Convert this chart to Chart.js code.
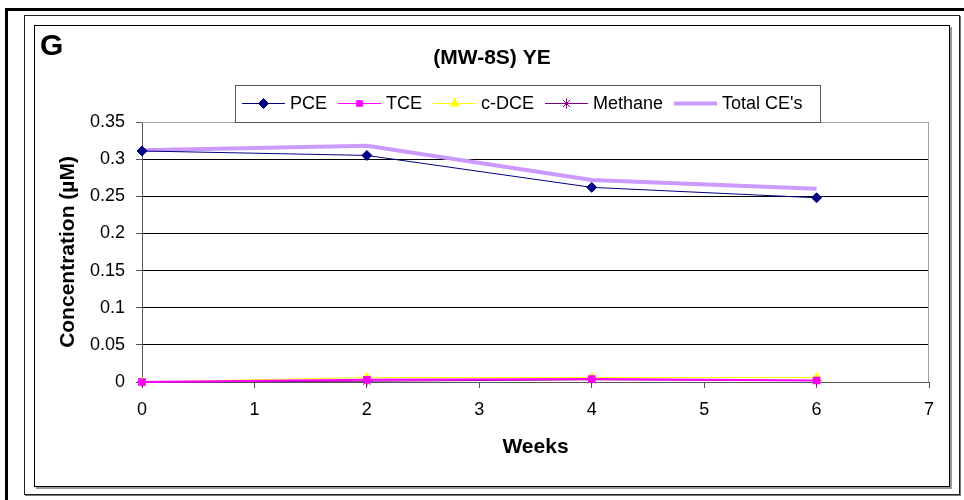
<!DOCTYPE html>
<html>
<head>
<meta charset="utf-8">
<script src="https://cdn.jsdelivr.net/npm/chart.js@4"></script>
<style>
body{margin:0;background:#fff;width:964px;height:500px;overflow:hidden;position:relative;font-family:"Liberation Sans",Arial,sans-serif;}
.f{position:absolute;box-sizing:border-box;}
#f1{left:5px;top:8px;width:970px;height:500px;border-top:3px solid #000;border-left:3px solid #000;}
#f2{left:24px;top:15px;width:936px;height:480px;border:1px solid #222;box-shadow:1px 1px 0 #777;}
#f3{left:34px;top:25px;width:916px;height:462px;border:1px solid #000;box-shadow:2px 2px 0 #999;}
#wrap{position:absolute;left:35px;top:26px;width:914px;height:460px;}
</style>
</head>
<body>
<div class="f" id="f1"></div>
<div class="f" id="f2"></div>
<div class="f" id="f3"></div>
<div id="wrap"><canvas id="chart" width="914" height="460"></canvas></div>
<script>
// weeks sampled
let weeks = [0, 2, 4, 6];

// concentrations (uM)
let pce = [0.311, 0.305, 0.262, 0.248];
let tce = [0, 0.003, 0.004, 0.002];
let cdce = [0, 0.006, 0.006, 0.006];
let methane = [0, 0.001, 0.003, 0.002];
let totalCE = [0.312, 0.318, 0.272, 0.260];

let seriesNames = ["PCE", "TCE", "c-DCE", "Methane", "Total CE's"];

const FONT = "'Liberation Sans', Arial, sans-serif";

function pts(vals){
return weeks.map((w, i) => ({x: w, y: vals[i]}));
}

// draws G, the title and the boxed legend
const extras = {
id: 'extras',
beforeDatasetsDraw(chart){
const a = chart.chartArea;
const c = chart.ctx;
c.save();
c.strokeStyle = '#a0a0a0';
c.lineWidth = 1;
c.beginPath();
c.moveTo(a.left, a.top + 0.5);
c.lineTo(a.right - 0.5, a.top + 0.5);
c.lineTo(a.right - 0.5, a.bottom);
c.stroke();
c.restore();
},
afterDraw(chart){
const c = chart.ctx;
c.save();
c.fillStyle = '#000';
c.font = "bold 30px " + FONT;
c.textBaseline = 'middle';
c.fillText("G", 5, 21);

c.font = "bold 21px " + FONT;
c.textAlign = 'center';
c.fillText("(MW-8S) YE", chart.width / 2, 32);

// legend
const lx = 200, ly = 59, lw = 585, lh = 37;
c.fillStyle = '#fff';
c.fillRect(lx, ly, lw, lh);
c.strokeStyle = '#555';
c.lineWidth = 1;
c.strokeRect(lx + 0.5, ly + 0.5, lw, lh);

c.font = "18px " + FONT;
c.textAlign = 'left';
let x = lx + 7;
const y = ly + lh / 2;
chart.data.datasets.forEach(ds => {
c.strokeStyle = ds.borderColor;
c.lineWidth = ds.label === "Total CE's" ? 4 : 1;
c.beginPath();
c.moveTo(x, y);
c.lineTo(x + 43, y);
c.stroke();
if(ds.pointStyle && ds.pointRadius > 0){
c.fillStyle = ds.pointBackgroundColor;
c.strokeStyle = ds.pointBorderColor;
Chart.helpers.drawPoint(c, {
pointStyle: ds.pointStyle,
radius: ds.pointRadius,
borderWidth: 1,
rotation: 0
}, x + 21.5, y);
}
x += 48;
c.fillStyle = '#000';
c.fillText(ds.label, x, y + 1);
x += c.measureText(ds.label).width + 11;
});
c.restore();
}
};

function mk(label, vals, color, width, style, radius){
return {
label: label,
data: pts(vals),
borderColor: color,
backgroundColor: color,
pointBackgroundColor: color,
pointBorderColor: color,
borderWidth: width,
pointStyle: style,
pointRadius: radius,
pointHoverRadius: radius,
showLine: true,
tension: 0,
clip: false
};
}

const ctx = document.getElementById('chart');

new Chart(ctx, {
type: 'scatter',
data: {
datasets: [
mk(seriesNames[0], pce, '#000080', 1, 'rectRot', 5),
mk(seriesNames[1], tce, '#ff00ff', 2, 'rect', 4),
mk(seriesNames[2], cdce, '#ffff00', 1, 'triangle', 5),
mk(seriesNames[3], methane, '#800080', 1, 'star', 5),
mk(seriesNames[4], totalCE, '#cc99ff', 4, false, 0)
]
},
options: {
responsive: false,
animation: false,
layout: {padding: {left: 0, top: 96, right: 20, bottom: 0}},
plugins: {
legend: {display: false},
title: {display: false},
tooltip: {enabled: false}
},
scales: {
x: {
type: 'linear',
min: 0,
max: 7,
afterFit(s){ s.height = 104; },
ticks: {stepSize: 1, color: '#000', padding: 11, font: {family: FONT, size: 18}},
grid: {drawOnChartArea: false, drawTicks: true, tickLength: 6, color: '#555'},
border: {color: '#555', width: 1},
title: {display: true, text: 'Weeks', color: '#000', font: {family: FONT, size: 21, weight: 'bold'}, padding: {bottom: 26, top: 0}}
},
y: {
min: 0,
max: 0.35,
afterFit(s){ s.width = 107; },
ticks: {
stepSize: 0.05,
color: '#000',
padding: 11,
font: {family: FONT, size: 18},
callback: v => String(parseFloat(v.toFixed(2)))
},
grid: {
tickLength: 6,
tickColor: '#555',
color: c => (c.tick && Math.abs(c.tick.value - 0.35) < 1e-9) ? '#a0a0a0' : '#000'
},
border: {color: '#555', width: 1},
title: {display: true, text: 'Concentration (\u00b5M)', color: '#000', font: {family: FONT, size: 21, weight: 'bold'}, padding: {top: 21, bottom: 0}}
}
}
},
plugins: [extras]
});
</script>
</body>
</html>
